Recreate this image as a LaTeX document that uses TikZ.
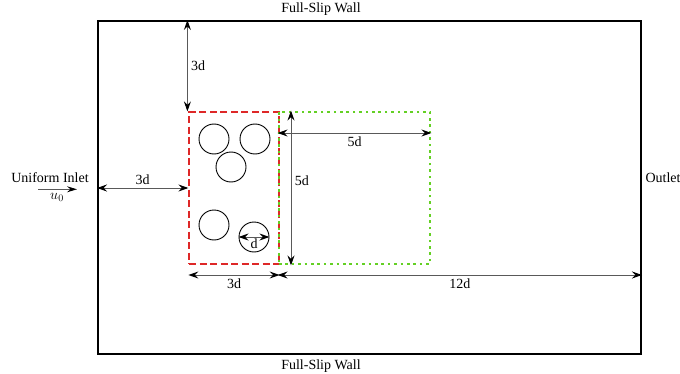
\documentclass[tikz,border=0pt]{standalone}
\usepackage{fontspec}
\setmainfont{Liberation Serif}
\usepackage{tikz}
\usetikzlibrary{arrows.meta,positioning}
\definecolor{zonered}{RGB}{222,40,40}
\definecolor{zonegreen}{RGB}{100,208,36}

\begin{document}
\begin{tikzpicture}[x=1pt,y=1pt,font=\fontsize{14}{16}\selectfont,
    dim/.style={draw=black!65,line width=1pt,text=black,{Stealth[length=10pt,width=7pt,inset=3.5pt,black]}-{Stealth[length=10pt,width=7pt,inset=3.5pt,black]}},
    cyl/.style={draw,circle,line width=0.9pt,minimum size=30pt,inner sep=0}]

\useasboundingbox (0,0) rectangle (680,373);

% Computational domain
\node[draw,
    line width=2pt,
    minimum width=543pt,
    minimum height=333pt,
    inner sep=0] (domain) at (369.5,185.5) {};

% Cylinder zone
\node[draw=zonered,
    dash pattern=on 7pt off 3.5pt,
    line width=1.2pt,
    minimum width=90pt,
    minimum height=152pt,
    inner sep=0] (redbox) at (234,185) {};

% Wake zone
\node[draw=zonegreen,
    dash pattern=on 2.6pt off 3.8pt,
    line width=2.8pt,
    minimum width=151pt,
    minimum height=152pt,
    inner sep=0] (greenbox) at (354.5,185) {};

% Cylinders
\node[cyl] (cyl1) at (214,234) {};
\node[cyl] (cyl2) at (255,234) {};
\node[cyl] (cyl3) at (231,206) {};
\node[cyl] (cyl4) at (214,148) {};
\node[cyl] (cyl5) at (254,136) {};

% Boundary labels
\coordinate (wallx) at (321,0);
\node[above=1pt of domain.north -| wallx] (topwall) {Full-Slip Wall};
\node[below=1pt of domain.south -| wallx] (botwall) {Full-Slip Wall};
\node (inlet) at (50,195) {Uniform Inlet};
\node[right=0pt of domain.east|-inlet] (outlet) {Outlet};
\node (u0) at (57,176) {$u_0$};

% Dimension rows
\coordinate (dimrow) at (0,98);
\coordinate (vdim) at (291,0);
\coordinate (hdim) at (0,240);

% Arrows
\draw[-{Stealth[length=10pt,width=6pt,inset=3.5pt,black]},black!65,line width=1pt]
    ([xshift=-19pt]u0.north) -- ([xshift=20pt]u0.north);

\draw[dim] ([xshift=-1pt]domain.north -| redbox.west) -- ([xshift=-1pt]redbox.north west)
    node[pos=0.5,right]{3d};

\draw[dim] (domain.west |- redbox.west) -- (redbox.west)
    node[pos=0.5,above]{3d};

\draw[dim] (redbox.south west |- dimrow) -- (redbox.south east |- dimrow)
    node[pos=0.5,below]{3d};

\draw[dim] (greenbox.south west |- dimrow) -- (domain.east |- dimrow)
    node[pos=0.5,below]{12d};

\draw[dim] (greenbox.north -| vdim) -- (greenbox.south -| vdim)
    node[pos=0.45,right]{5d};

\draw[dim] (greenbox.west |- hdim) -- (greenbox.east |- hdim)
    node[pos=0.5,below]{5d};

\draw[dim] (cyl5.west) -- (cyl5.east)
    node[pos=0.5,below,inner sep=1pt]{d};

\end{tikzpicture}
\end{document}
